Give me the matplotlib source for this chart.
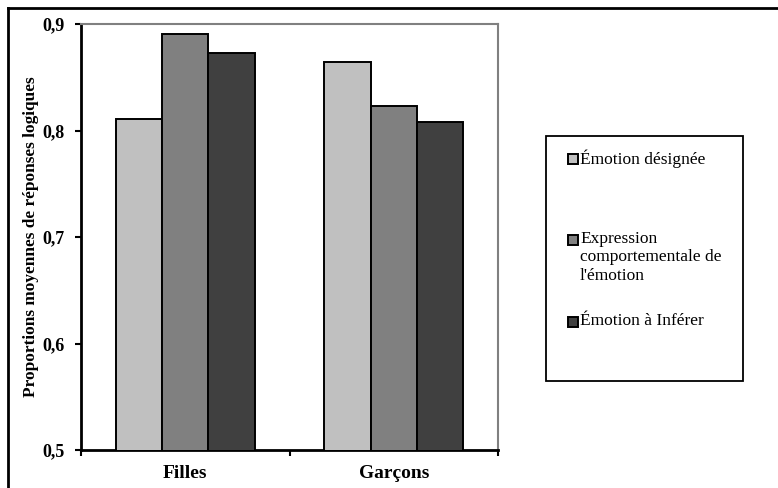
import matplotlib
matplotlib.use("Agg")
import matplotlib.pyplot as plt
from matplotlib.patches import Rectangle
from matplotlib.lines import Line2D
import numpy as np

# données
groupes = ["Filles", "Garçons"]
series = ["Émotion désignée",
          "Expression\ncomportementale de\nl'émotion",
          "Émotion à Inférer"]
valeurs = {
    "Émotion désignée": [0.811, 0.864],
    "Expression\ncomportementale de\nl'émotion": [0.891, 0.823],
    "Émotion à Inférer": [0.873, 0.808],
}
couleurs = ["#c0c0c0", "#808080", "#404040"]
yticks = [0.5, 0.6, 0.7, 0.8, 0.9]
ytick_labels = ["0,5", "0,6", "0,7", "0,8", "0,9"]

plt.rcParams['font.family'] = ['Liberation Serif', 'DejaVu Serif']

W, H = 778, 488
fig = plt.figure(figsize=(W / 100, H / 100), dpi=100)
ax = fig.add_axes([81 / W, 1 - 450 / H, (498 - 81) / W, (450 - 24) / H])

x = np.arange(len(groupes))
largeur = 0.223
bars = []
for i, s in enumerate(series):
    b = ax.bar(x + (i - 1) * largeur, valeurs[s], largeur, color=couleurs[i],
               edgecolor="black", linewidth=1.4, zorder=3)
    bars.append(b)

ax.set_xlim(-0.5, 1.5)
ax.set_ylim(0.5, 0.9)
ax.set_yticks(yticks)
ax.set_yticklabels(ytick_labels, fontsize=13, fontweight="bold")
ax.set_xticks(x)
ax.set_xticklabels(groupes, fontsize=14, fontweight="bold")
ax.set_xticks([-0.5, 0.5, 1.5], minor=True)
ax.tick_params(axis="x", which="major", length=0, pad=11)
ax.tick_params(axis="x", which="minor", length=4, width=1.5, direction="out")
ax.tick_params(axis="y", length=4, width=1.5, direction="out", pad=8)

for side in ["left", "bottom"]:
    ax.spines[side].set_linewidth(2)
    ax.spines[side].set_color("black")
for side in ["top", "right"]:
    ax.spines[side].set_linewidth(1.5)
    ax.spines[side].set_color("#808080")

fig.text(31 / W, 1 - 237 / H, "Proportions moyennes de réponses logiques",
         rotation=90, ha="center", va="center", fontsize=12.4, fontweight="bold")

# cadre extérieur (haut et gauche)
fig.add_artist(Line2D([8 / W, 1], [1 - 8 / H, 1 - 8 / H], color="black", lw=2))
fig.add_artist(Line2D([8 / W, 8 / W], [0, 1 - 8 / H], color="black", lw=2))

# légende dessinée à la main, façon Excel
fig.add_artist(Rectangle((546 / W, 1 - 381 / H), (743 - 546) / W, (381 - 136) / H,
                         transform=fig.transFigure, fill=False,
                         edgecolor="black", lw=1.3))
pos_y = [159, 240, 322]
for i, s in enumerate(series):
    y = pos_y[i]
    fig.add_artist(Rectangle((568 / W, 1 - (y + 5) / H), 10 / W, 10 / H,
                             transform=fig.transFigure,
                             facecolor=bars[i].patches[0].get_facecolor(),
                             edgecolor="black", lw=1.4))
    fig.text(580 / W, 1 - (y - 9) / H, s, ha="left", va="top",
             fontsize=12.5, linespacing=1.2)

fig.savefig("out.png", dpi=100)
